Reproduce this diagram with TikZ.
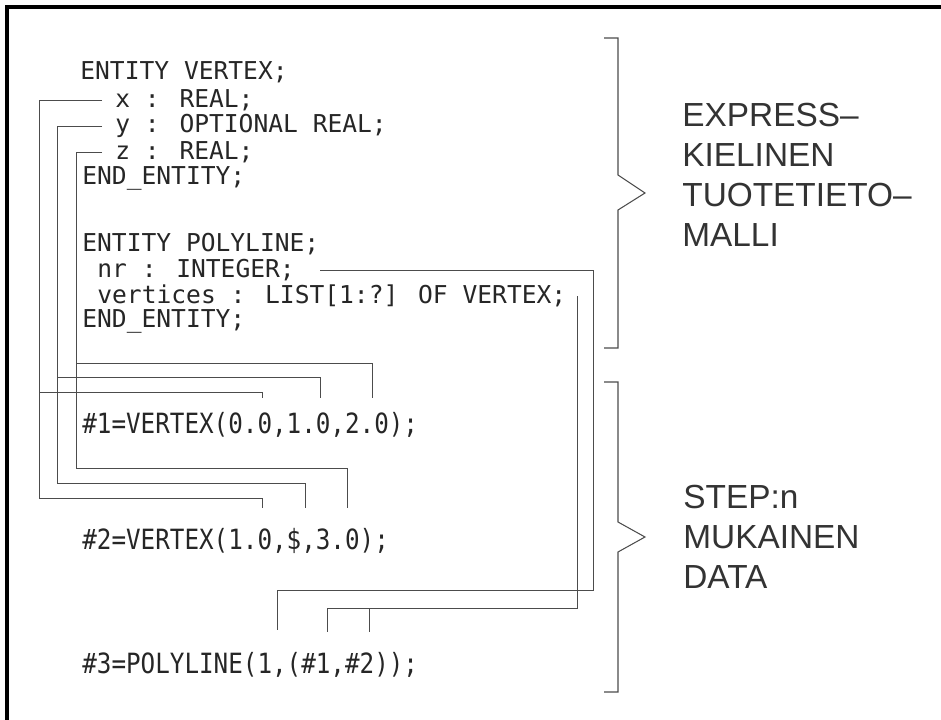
\documentclass[tikz,border=0pt]{standalone}
\usepackage{fontspec}
\usepackage{graphicx}
\setmainfont{Liberation Sans}
\newfontfamily\codefont{DejaVu Sans Mono}
\newcommand\talldata[1]{\scalebox{1}[1.15]{#1}}
\usepackage{tikz}

\begin{document}
\begin{tikzpicture}[x=0.02cm, y=-0.02cm]
\tikzstyle{code} = [anchor=west, inner sep=0pt, text=black!85, font=\codefont\fontsize{14}{16}\selectfont]
\tikzstyle{data} = [anchor=west, inner sep=0pt, text=black!85, font=\codefont\fontsize{13.8}{16}\selectfont]
\tikzstyle{label} = [anchor=west, inner sep=0pt, align=left, text=black!80, font=\fontsize{19}{22.7}\selectfont]
\tikzstyle{lead} = [draw=black!70, line width=0.5pt]
\tikzstyle{brace} = [draw=black!70, line width=0.6pt]

\useasboundingbox (0,0) rectangle (941,720);
\draw[line width=1.8pt] (7,720) -- (7,7) -- (941,7);

% EXPRESS schema
\node[code] (ev) at (80,72) {ENTITY VERTEX;};
\node[code] (ax) at (115,100) {x : REAL;};
\node[code] (ay) at (115,126) {y : OPTIONAL REAL;};
\node[code] (az) at (115,152) {z : REAL;};
\node[code] (ee1) at (82,178) {END\_ENTITY;};
\node[code] (ep) at (82,244) {ENTITY POLYLINE;};
\node[code] (anr) at (97,270) {nr : INTEGER;};
\node[code] (avt) at (97,296) {vertices : LIST[1:?] OF VERTEX;};
\node[code] (ee2) at (82,321) {END\_ENTITY;};

% STEP data
\node[data] (d1) at (82,425) {\talldata{\#1=VERTEX(0.0,1.0,2.0);}};
\node[data] (d2) at (82,541) {\talldata{\#2=VERTEX(1.0,\$,3.0);}};
\node[data] (d3) at (82,665) {\talldata{\#3=POLYLINE(1,(\#1,\#2));}};

% value positions
\coordinate (v1a) at (262,398);
\coordinate (v1b) at (320,398);
\coordinate (v1c) at (372,398);
\coordinate (v2a) at (262,508);
\coordinate (v2b) at (305,508);
\coordinate (v2c) at (347,508);
\coordinate (v3a) at (277,630);
\coordinate (v3b) at (327,632);
\coordinate (v3c) at (369,632);

% attribute leaders
\draw[lead] ([xshift=-0.26cm]ax.west) -- (39,100) -- (39,498) -| (v2a);
\draw[lead] (39,392) -| (v1a);
\draw[lead] ([xshift=-0.26cm]ay.west) -- (57,126) -- (57,483) -| (v2b);
\draw[lead] (57,377) -| (v1b);
\draw[lead] ([xshift=-0.26cm]az.west) -- (76,152) -- (76,468) -| (v2c);
\draw[lead] (76,363) -| (v1c);
\draw[lead] ([xshift=0.5cm]anr.east) -- (593,270) -- (593,590) -| (v3a);
\draw[lead] ([xshift=0.22cm]avt.east) -- (577,296) -- (577,608) -| (v3b);
\draw[lead] (369,608) -- (v3c);

% braces
\draw[brace] (604,38) -- (618,38) -- (618,175) -- (645,193) -- (618,210) -- (618,348) -- (604,348);
\draw[brace] (604,382) -- (618,382) -- (618,522) -- (645,537) -- (618,552) -- (618,692) -- (604,692);

\node[label] (lexp) at (682,175) {EXPRESS--\\KIELINEN\\TUOTETIETO--\\MALLI};
\node[label] (lstep) at (683,537) {STEP:n\\MUKAINEN\\DATA};
\end{tikzpicture}
\end{document}
